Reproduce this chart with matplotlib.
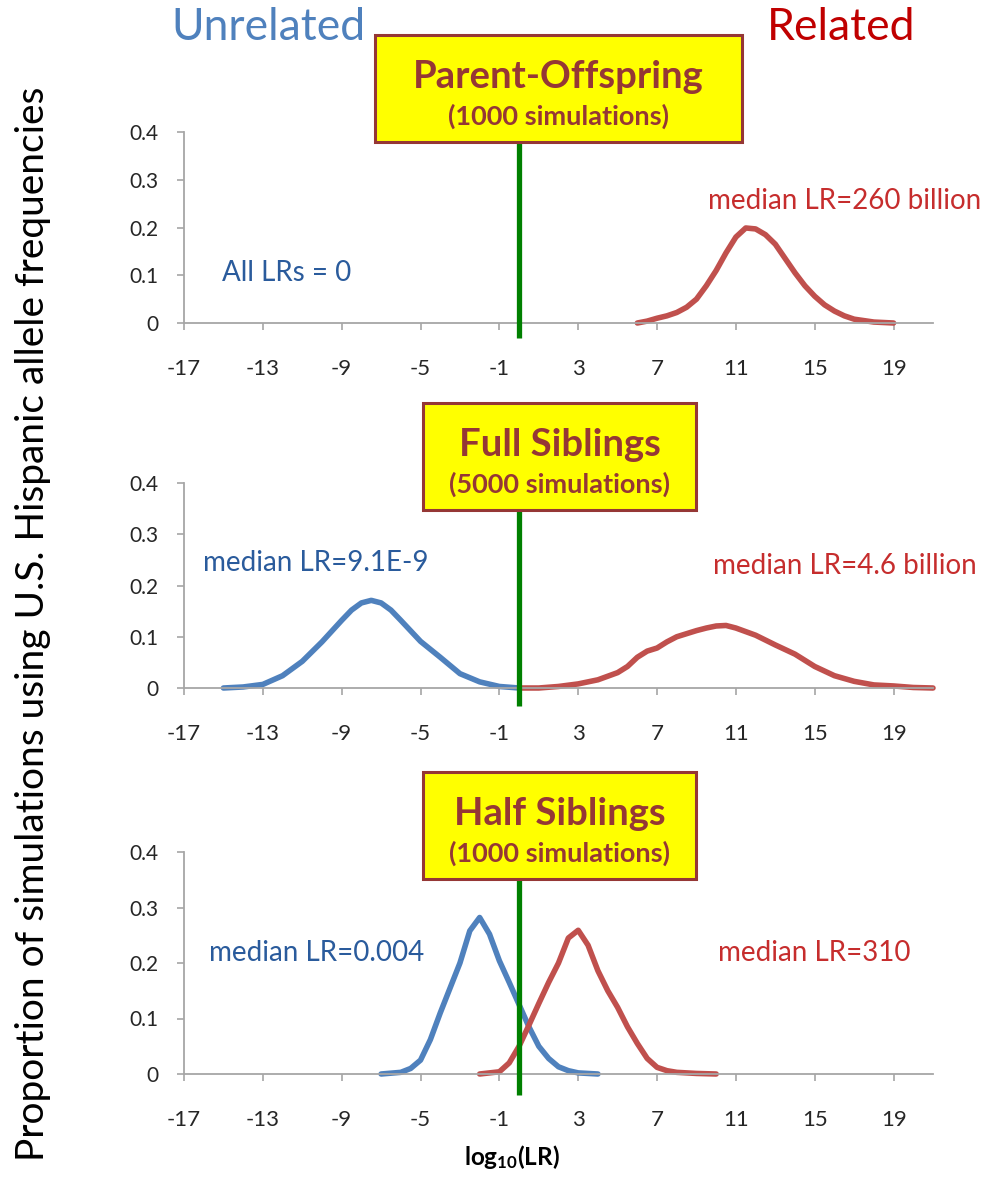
import matplotlib
matplotlib.use("Agg")
import matplotlib.pyplot as plt
from matplotlib.patches import Rectangle

plt.rcParams["font.family"] = ["Lato", "DejaVu Sans"]
plt.rcParams["mathtext.fontset"] = "custom"
plt.rcParams["mathtext.bf"] = "Lato:bold"
plt.rcParams["mathtext.rm"] = "Lato"

# --- data ---
x_ticks = [-17, -13, -9, -5, -1, 3, 7, 11, 15, 19]
y_ticks = [0, 0.1, 0.2, 0.3, 0.4]
y_tick_labels = ["0", "0.1", "0.2", "0.3", "0.4"]
threshold = 0   # log10(LR) = 0

po_related_x = [6, 6.5, 7, 7.5, 8, 8.5, 9, 9.5, 10, 10.5, 11, 11.5, 12, 12.5, 13,
                13.5, 14, 14.5, 15, 15.5, 16, 16.5, 17, 18, 19]
po_related_y = [0.0, 0.004, 0.01, 0.015, 0.022, 0.033, 0.05, 0.078, 0.11, 0.147, 0.18,
                0.199, 0.197, 0.185, 0.165, 0.135, 0.105, 0.078, 0.056, 0.038, 0.025,
                0.015, 0.008, 0.002, 0.0]

fs_unrelated_x = [-15, -14, -13, -12, -11, -10, -9, -8.5, -8, -7.5, -7, -6.5, -6, -5,
                  -4, -3, -2, -1, 0]
fs_unrelated_y = [0.0, 0.002, 0.007, 0.024, 0.052, 0.09, 0.132, 0.152, 0.166, 0.171,
                  0.166, 0.152, 0.132, 0.091, 0.06, 0.028, 0.012, 0.003, 0.0]
fs_related_x = [0, 1, 2, 3, 4, 5, 5.5, 6, 6.5, 7, 7.5, 8, 8.5, 9, 9.5, 10, 10.5, 11,
                12, 13, 14, 15, 16, 17, 18, 19, 20, 21]
fs_related_y = [0.0, 0.0, 0.003, 0.008, 0.016, 0.03, 0.042, 0.06, 0.072, 0.078, 0.09,
                0.1, 0.106, 0.112, 0.117, 0.121, 0.122, 0.117, 0.103, 0.084, 0.066,
                0.042, 0.024, 0.013, 0.006, 0.004, 0.001, 0.0]

hs_unrelated_x = [-7, -6, -5.5, -5, -4.5, -4, -3.5, -3, -2.5, -2, -1.5, -1, -0.5, 0,
                  0.5, 1, 1.5, 2, 2.5, 3, 4]
hs_unrelated_y = [0.0, 0.003, 0.01, 0.025, 0.062, 0.11, 0.155, 0.2, 0.258, 0.282, 0.252,
                  0.204, 0.165, 0.125, 0.085, 0.05, 0.028, 0.013, 0.006, 0.002, 0.0]
hs_related_x = [-2, -1, -0.5, 0, 0.5, 1, 1.5, 2, 2.5, 3, 3.5, 4, 4.5, 5, 5.5, 6, 6.5,
                7, 7.5, 8, 9, 10]
hs_related_y = [0.0, 0.004, 0.02, 0.05, 0.088, 0.127, 0.165, 0.2, 0.245, 0.259, 0.232,
                0.186, 0.15, 0.12, 0.085, 0.055, 0.028, 0.012, 0.006, 0.003, 0.001, 0.0]

titles = ["Parent-Offspring", "Full Siblings", "Half Siblings"]
subtitles = ["(1000 simulations)", "(5000 simulations)", "(1000 simulations)"]

# --- layout in reference pixels ---
W, H = 1004, 1186
BLUE, RED = "#4F81BD", "#C0504D"
BLUE_TXT, RED_TXT = "#2A5B9C", "#C62D2D"
BOX_EDGE = "#953735"


def fx(x):
    return x / W


def fy(y):
    return 1 - y / H


# (top px of 0.4, bottom px of 0)
panel_px = [(132, 323), (483, 688), (852, 1074)]
box_px = [(375, 35, 742, 142), (423, 403, 696, 510), (423, 772, 696, 879)]
green_below_px = [15, 18, 21]

fig = plt.figure(figsize=(W / 100, H / 100), dpi=100)

axes = []
for (top, bot) in panel_px:
    ax = fig.add_axes([fx(184), fy(bot), (933 - 184) / W, (bot - top) / H])
    ax.set_xlim(-17, 21)
    ax.set_ylim(0, 0.4)
    for s in ["top", "right"]:
        ax.spines[s].set_visible(False)
    for s in ["left", "bottom"]:
        ax.spines[s].set_color("#A6A6A6")
        ax.spines[s].set_linewidth(1.3)
    ax.set_xticks(x_ticks)
    ax.set_xticklabels([str(t) for t in x_ticks])
    ax.set_yticks(y_ticks)
    ax.set_yticklabels(y_tick_labels)
    ax.tick_params(axis="x", direction="out", length=5, width=1.2, color="#A6A6A6",
                   labelsize=16, labelcolor="#262626", pad=21)
    ax.tick_params(axis="y", direction="out", length=5, width=1.2, color="#A6A6A6",
                   labelsize=15, labelcolor="#262626", pad=13)
    axes.append(ax)

curve_kw = dict(lw=4, solid_capstyle="round", solid_joinstyle="round", clip_on=False)
axes[0].plot(po_related_x, po_related_y, color=RED, **curve_kw)
axes[1].plot(fs_unrelated_x, fs_unrelated_y, color=BLUE, **curve_kw)
axes[1].plot(fs_related_x, fs_related_y, color=RED, **curve_kw)
axes[2].plot(hs_unrelated_x, hs_unrelated_y, color=BLUE, **curve_kw)
axes[2].plot(hs_related_x, hs_related_y, color=RED, **curve_kw)

# green threshold line, running from under the box to below the axis
for ax, (top, bot), below in zip(axes, panel_px, green_below_px):
    d = below / (bot - top) * 0.4
    ax.plot([threshold, threshold], [-d, 0.45], color="#008000", lw=3.8,
            solid_capstyle="butt", clip_on=False, zorder=5)

# yellow title boxes
for (x0, y0, x1, y1), t, st in zip(box_px, titles, subtitles):
    fig.patches.append(Rectangle((fx(x0), fy(y1)), (x1 - x0) / W, (y1 - y0) / H,
                                 transform=fig.transFigure, facecolor="#FFFF00",
                                 edgecolor=BOX_EDGE, lw=2.2, zorder=10))
    cx = (x0 + x1) / 2
    fig.text(fx(cx), fy(y0 + 0.39 * (y1 - y0)), t, ha="center", va="center",
             fontsize=27.5, fontweight="bold", color=BOX_EDGE, zorder=11)
    fig.text(fx(cx), fy(y0 + 0.76 * (y1 - y0)), st, ha="center", va="center",
             fontsize=19.5, fontweight="bold", color=BOX_EDGE, zorder=11)

# header words
fig.text(fx(268), fy(28), "Unrelated", ha="center", va="center", fontsize=32, color=BLUE)
fig.text(fx(841), fy(28), "Related", ha="center", va="center", fontsize=32, color="#C00000")

# annotations
note_kw = dict(va="center", fontsize=20)
fig.text(fx(222), fy(273), "All LRs = 0", color=BLUE_TXT, **note_kw)
fig.text(fx(845), fy(201), "median LR=260 billion", color=RED_TXT, ha="center", **note_kw)
fig.text(fx(316), fy(563), "median LR=9.1E-9", color=BLUE_TXT, ha="center", **note_kw)
fig.text(fx(845), fy(566), "median LR=4.6 billion", color=RED_TXT, ha="center", **note_kw)
fig.text(fx(317), fy(953), "median LR=0.004", color=BLUE_TXT, ha="center", **note_kw)
fig.text(fx(814), fy(953), "median LR=310", color=RED_TXT, ha="center", **note_kw)

# axis titles
fig.text(fx(33), fy(624), "Proportion of simulations using U.S. Hispanic allele frequencies",
         rotation=90, ha="center", va="center", fontsize=28, color="#000000")
fig.text(fx(512), fy(1157), r"$\mathbf{log_{10}(LR)}$", ha="center", va="center",
         fontsize=17.5, color="#000000")

fig.savefig("out.png", dpi=100)
